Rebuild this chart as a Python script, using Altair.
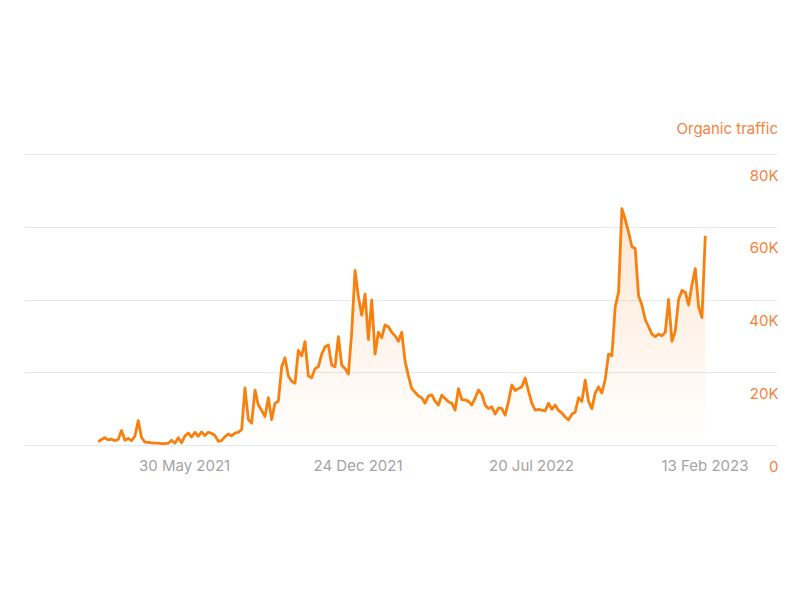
import altair as alt
import pandas as pd

START_DATE = "2021-02-16"
STEP_DAYS = 4

traffic = [
    900, 1500, 2000, 1400, 1600, 1200, 1500, 4000, 1300, 1800,
    1200, 2400, 6700, 2000, 800, 700, 600, 500, 500, 400,
    400, 500, 1300, 500, 2000, 600, 2500, 3300, 2200, 3500,
    2400, 3600, 2600, 3500, 3200, 2600, 1000, 1200, 2300, 3000,
    2500, 3300, 3500, 4200, 15700, 7000, 6000, 15100, 11000, 9500,
    7800, 13000, 7000, 11500, 12000, 21500, 24000, 19000, 17500, 17000,
    26000, 24500, 28400, 19000, 18500, 21000, 21500, 25000, 27000, 27500,
    22000, 21500, 29800, 22000, 21000, 19500, 31000, 48000, 40800, 35700,
    41500, 29000, 39900, 25000, 31000, 29500, 33000, 32500, 31000, 30000,
    28500, 31000, 23000, 19000, 15500, 14500, 13500, 13000, 11500, 13500,
    13800, 12000, 11000, 13700, 12800, 11900, 11500, 9600, 15500, 12500,
    12400, 12000, 11000, 12900, 15100, 14000, 11000, 10000, 10500, 8500,
    10200, 10000, 8200, 12000, 16500, 15000, 15500, 16000, 18400, 14800,
    11500, 9600, 9800, 9600, 9400, 11500, 9800, 11000, 9500, 8800,
    7700, 6900, 8500, 9000, 13000, 12000, 17800, 12000, 10000, 14300,
    16000, 14300, 18000, 25000, 24500, 38000, 42000, 65000, 62000, 58500,
    54500, 54000, 41000, 38500, 34500, 32500, 30500, 29800, 30500, 30000,
    31000, 40000, 28500, 31300, 40000, 42500, 42000, 38500, 44000, 48500,
    38000, 35000, 57500,
]

x_tick_dates = [(2021, 5, 30), (2021, 12, 24), (2022, 7, 20), (2023, 2, 13)]
y_ticks = [0, 20000, 40000, 60000, 80000]

dates = pd.date_range(START_DATE, periods=len(traffic), freq=f"{STEP_DAYS}D")
df = pd.DataFrame({"date": dates.strftime("%Y-%m-%dT00:00:00"), "traffic": traffic})

ORANGE = "#F7800F"
TEXT_ORANGE = "#F4833D"
GRAY = "#A3A3A3"
FONT = "Inter"
FS = 15

x_enc = alt.X(
    "date:T",
    scale=alt.Scale(domain=[alt.DateTime(year=2020, month=11, date=19),
                            alt.DateTime(year=2023, month=5, date=11)]),
    axis=alt.Axis(
        title=None,
        values=[alt.DateTime(year=y, month=m, date=d) for (y, m, d) in x_tick_dates],
        format="%d %b %Y",
        grid=False, ticks=False, domain=False,
        labelColor=GRAY, labelFontSize=FS, labelFont=FONT,
        labelPadding=13, labelFlush=False, labelOverlap=False,
    ),
)
y_enc = alt.Y(
    "traffic:Q",
    scale=alt.Scale(domain=[0, 80000], nice=False),
    axis=alt.Axis(
        title=None, orient="right", values=y_ticks,
        labelExpr="datum.value == 0 ? '0' : (datum.value / 1000) + 'K'",
        grid=True, gridColor="#E8E8EA", gridWidth=1,
        ticks=False, tickSize=0, domain=False,
        labelAlign="right", labelBaseline="middle", labelPadding=1,
        labelOffset=21, labelColor=TEXT_ORANGE, labelFontSize=FS, labelFont=FONT,
        labelFlush=False, labelOverlap=False, labelBound=False,
    ),
)

base = alt.Chart(df)
area = base.mark_area(
    color=alt.Gradient(
        gradient="linear", x1=1, x2=1, y1=0, y2=1,
        stops=[alt.GradientStop(color="rgba(245,130,31,0.20)", offset=0),
               alt.GradientStop(color="rgba(245,130,31,0.0)", offset=1)],
    )
).encode(x=x_enc, y=y_enc)
line = base.mark_line(color=ORANGE, strokeWidth=2.8, strokeJoin="round").encode(x=x_enc, y=y_enc)

chart = alt.layer(area, line).properties(
    width=753, height=291,
    background="white",
    title=alt.TitleParams(
        "Organic traffic", anchor="end", color=TEXT_ORANGE, fontSize=FS,
        font=FONT, fontWeight="normal", offset=2, baseline="bottom",
    ),
    autosize=alt.AutoSizeParams(type="none"),
    padding={"left": 16, "top": 146, "right": 15, "bottom": 130},
).configure_view(strokeWidth=0, stroke="transparent")

chart.save("out.html", embed_options={"renderer": "svg", "actions": False})
